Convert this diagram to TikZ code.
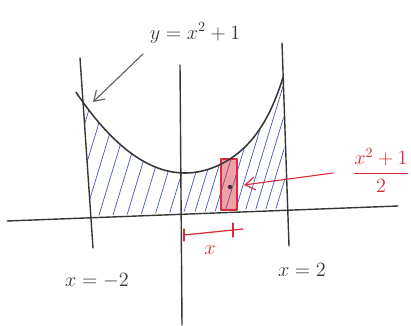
\documentclass[tikz,border=0pt]{standalone}
\usetikzlibrary{arrows.meta}
\definecolor{ink}{RGB}{55,55,55}
\definecolor{hatchblue}{RGB}{75,85,185}
\definecolor{redink}{RGB}{215,45,60}
\begin{document}
\begin{tikzpicture}[x=0.025cm,y=-0.025cm,line cap=round,line join=round,
  axisline/.style={draw=ink,line width=1pt},
  curveline/.style={draw=ink,line width=1.1pt},
  hatchline/.style={draw=hatchblue,line width=0.5pt},
  redline/.style={draw=redink,line width=0.9pt},
  pointer/.style={-{Straight Barb[length=7pt,width=9pt]},line width=0.8pt},
  lbl/.style={inner sep=1pt,font=\Large},
  declare function={py(\t)=173-68*((\t-185)/100)^2-(\t>185)*34*((\t-185)/100)^6;}]
\useasboundingbox (0,0) rectangle (411,326);
% hatching
\begin{scope}
\clip (90,216) -- (84,108) -- plot[domain=85:283,samples=80] (\x,{py(\x)}) -- (283,95) -- (286,208) -- cycle;
\foreach \x in {40,54,...,180}
  \draw[hatchline] (\x,225) -- ++(50,-165);
\foreach \x in {191,201,...,300}
  \draw[hatchline] (\x,225) -- ++(50,-165);
\end{scope}
% red strip
\node (strip) [draw=redink,line width=1.2pt,fill=redink,fill opacity=0.45,draw opacity=1,
  minimum width=0.4cm,minimum height=1.275cm,inner sep=0pt,outer sep=0pt,anchor=north west] at (221,159) {};
\coordinate (mid) at (230,187);
\fill[ink] (mid) circle (2.2);
% axes
\draw[axisline] (7,221) -- (398,206);
\draw[axisline] (180,65) -- (182,325);
\draw[axisline] (80,58) -- (93,248);
\draw[axisline] (282,43) -- (289,246);
% parabola
\draw[curveline] plot[domain=76:283,samples=80] (\x,{py(\x)});
% labels
\node[lbl,text=ink] (eq) at (195,33) {$y=x^2+1$};
\coordinate (eqtail) at (143,54);
\coordinate (curvept) at (93,102);
\draw[pointer,draw=ink!80] (eqtail) -- (curvept);
\node[lbl,text=ink] (xm2) at (97,281) {$x=-2$};
\node[lbl,text=ink] (xp2) at (302,270) {$x=2$};
% red fraction
\node[lbl,text=redink] (frac) at (381,170) {$\displaystyle\frac{x^2+1}{2}$};
\coordinate (atail) at (333,173);
\coordinate (ahead) at (244,185);
\draw[pointer,draw=redink] (atail) -- (ahead);
% red measure x
\coordinate (m0) at (184,235);
\coordinate (m1) at (243,229);
\draw[redline] (m0) -- (m1);
\draw[redline] (184,229) -- (184,241);
\draw[redline] (233,223) -- (233,237);
\node[lbl,text=redink] (xlab) at (210,250) {$x$};
\end{tikzpicture}
\end{document}
